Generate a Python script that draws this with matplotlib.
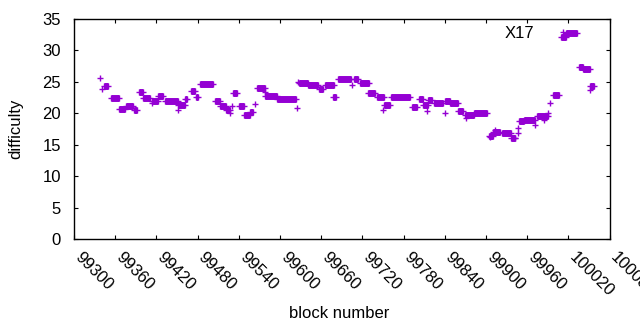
"""
Difficulty per block for the X17 algorithm, gnuplot-like look
"""

import matplotlib
matplotlib.use("Agg")
import matplotlib.pyplot as plt
import numpy as np

# isolated blocks
single_block = [99338, 99341, 99413, 99451, 99530, 99527, 99564, 99578, 99625, 99627,
                99705, 99750, 99814, 99840, 99871, 99906, 99913, 99942, 99946, 99947,
                99971, 99984, 99990, 99993, 100052]
single_diff = [25.6, 23.8, 21.6, 20.5, 21.2, 20.1, 21.5, 23.4, 20.8, 25.0,
               24.5, 20.5, 20.3, 20.1, 19.3, 16.3, 17.4, 16.0, 17.6, 16.9,
               18.2, 18.9, 20.0, 21.6, 23.7]

# runs of consecutive blocks at (almost) the same difficulty
run_start = [99343, 99354, 99366, 99376, 99388, 99394, 99401, 99413, 99422, 99432,
             99452, 99462, 99470, 99477, 99483, 99505, 99512, 99522, 99531, 99540,
             99548, 99556, 99567, 99578, 99595, 99628, 99641, 99657, 99665, 99677,
             99684, 99708, 99716, 99728, 99741, 99752, 99762, 99793, 99802, 99809,
             99816, 99824, 99840, 99848, 99860, 99869, 99883, 99904, 99910, 99923,
             99937, 99948, 99955, 99974, 99997, 100009, 100016, 100035, 100042, 100052]
run_end = [99350, 99366, 99375, 99386, 99392, 99401, 99411, 99422, 99429, 99451,
           99461, 99465, 99476, 99480, 99503, 99512, 99521, 99527, 99538, 99548,
           99556, 99561, 99578, 99595, 99624, 99641, 99656, 99663, 99678, 99681,
           99704, 99713, 99729, 99739, 99751, 99761, 99790, 99800, 99808, 99815,
           99822, 99838, 99847, 99859, 99867, 99882, 99902, 99910, 99921, 99936,
           99943, 99955, 99971, 99990, 100007, 100016, 100033, 100042, 100051, 100057]
run_diff = [24.4, 22.4, 20.7, 21.2, 20.5, 23.4, 22.4, 22.0, 22.8, 22.0,
            21.3, 22.3, 23.6, 22.6, 24.6, 22.0, 21.1, 20.5, 23.2, 21.1,
            19.7, 20.2, 24.0, 22.8, 22.3, 24.8, 24.5, 23.8, 24.5, 22.6,
            25.4, 25.4, 24.8, 23.3, 22.6, 21.3, 22.6, 21.0, 22.3, 21.3,
            22.1, 21.7, 22.0, 21.7, 20.3, 19.7, 20.1, 16.4, 17.0, 16.9,
            16.1, 18.7, 19.0, 19.5, 22.9, 32.1, 32.8, 27.4, 27.0, 24.4]

x_ticks = np.arange(99300, 100081, 60)
y_ticks = np.arange(0, 36, 5)

color = "#9400d3"
plt.rcParams["font.family"] = ["Liberation Sans", "DejaVu Sans"]
plt.rcParams["font.size"] = 12

fig = plt.figure(figsize=(6.4, 3.3), dpi=100)
ax = fig.add_axes([74 / 640, 91 / 330, 535.5 / 640, 220 / 330])

# runs: filled band as tall as the "+" marker, with markers at both ends
ax.hlines(run_diff, run_start, run_end, colors=color, linewidth=5, capstyle="butt")
ax.plot(run_start + run_end, run_diff + run_diff, "+", color=color, ms=5, mew=1.0)
ax.plot(single_block, single_diff, "+", color=color, ms=5, mew=1.0, label="X17")

ax.set_xlim(99300, 100080)
ax.set_ylim(0, 35)
ax.set_xticks(x_ticks)
ax.set_yticks(y_ticks)
ax.set_xticklabels([str(t) for t in x_ticks], rotation=-45, ha="left", va="baseline",
                   rotation_mode="anchor")
ax.tick_params(direction="in", length=3, width=0.8, top=True, right=True)
ax.tick_params(axis="x", pad=14)
ax.tick_params(axis="y", pad=9.5)
for s in ax.spines.values():
    s.set_linewidth(1.0)

ax.set_xlabel("block number", va="top")
ax.xaxis.set_label_coords(0.495, -0.305)
ax.set_ylabel("difficulty", va="bottom")
ax.yaxis.set_label_coords(-0.095, 0.5)

ax.legend(loc="upper right", bbox_to_anchor=(0.956, 1.014), frameon=False, markerfirst=False,
          handlelength=1.5, handletextpad=1.0, borderaxespad=0.2)

fig.savefig("out.png", dpi=100)
